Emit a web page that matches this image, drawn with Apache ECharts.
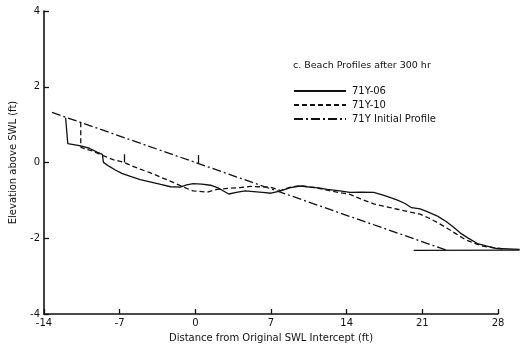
<!DOCTYPE html>
<html>
<head>
<meta charset="utf-8">
<script src="https://cdn.jsdelivr.net/npm/echarts@6/dist/echarts.min.js"></script>
<style>
  html, body { margin: 0; padding: 0; background: #fff; }
  #chart { width: 523px; height: 348px; }
</style>
</head>
<body>
<div id="chart"></div>
<script>
// Beach profiles after 300 hr: distance (ft) vs elevation above SWL (ft)
const xTicks = [-14, -7, 0, 7, 14, 21, 28];
const yTicks = [-4, -2, 0, 2, 4];
// the profile traces run a little past the last labelled tick
const xDrawMax = 30;

const profile06 = [
  [-12.0, 1.20], [-11.8, 0.52], [-10.6, 0.46], [-9.8, 0.40], [-9.1, 0.30],
  [-8.6, 0.24], [-8.5, 0.03], [-8.0, -0.07], [-7.4, -0.17], [-6.8, -0.26],
  [-6.0, -0.34], [-5.1, -0.42], [-4.2, -0.48], [-3.2, -0.55], [-2.3, -0.61],
  [-1.4, -0.62], [-0.8, -0.56], [-0.2, -0.53], [0.6, -0.54], [1.4, -0.57],
  [2.1, -0.64], [2.6, -0.72], [3.1, -0.80], [3.8, -0.76], [4.6, -0.72],
  [5.4, -0.74], [6.2, -0.76], [7.0, -0.78], [7.9, -0.72], [8.8, -0.63],
  [9.7, -0.59], [10.6, -0.62], [11.4, -0.64], [12.2, -0.68], [13.2, -0.71],
  [14.3, -0.76], [15.4, -0.75], [16.5, -0.76], [17.3, -0.82], [18.0, -0.89],
  [18.7, -0.96], [19.4, -1.05], [20.0, -1.16], [20.8, -1.19], [21.5, -1.27],
  [22.4, -1.38], [23.2, -1.52], [23.9, -1.67], [24.6, -1.84], [25.2, -1.95],
  [26.1, -2.10], [26.9, -2.16], [27.9, -2.23], [30.0, -2.25]
];

const profile10 = [
  [-10.6, 1.08], [-10.6, 0.43], [-10.2, 0.38], [-9.5, 0.33], [-8.9, 0.25],
  [-8.3, 0.18], [-7.6, 0.10], [-6.6, 0.03], [-5.9, -0.06], [-5.1, -0.15],
  [-4.2, -0.24], [-3.2, -0.36], [-2.0, -0.50], [-1.1, -0.62], [-0.2, -0.72],
  [1.1, -0.75], [2.0, -0.68], [3.0, -0.65], [4.2, -0.63], [5.1, -0.60],
  [6.9, -0.62], [7.9, -0.71], [8.8, -0.62], [9.7, -0.58], [11.0, -0.63],
  [12.2, -0.70], [13.3, -0.76], [14.3, -0.81], [15.3, -0.93], [16.5, -1.06],
  [17.4, -1.12], [18.7, -1.20], [19.8, -1.27], [20.8, -1.33], [21.6, -1.43],
  [22.4, -1.55], [23.3, -1.70], [24.2, -1.86], [25.0, -2.00], [25.7, -2.08],
  [26.6, -2.17], [27.6, -2.21], [28.5, -2.24]
];

const initialProfile = [[-13.26, 1.34], [23.3, -2.28]];
const tankFloor = [[20.2, -2.28], [30.0, -2.27]];

// short survey marks: [x, yFrom, yTo]
const marks10 = [[-6.6, 0.03, 0.24]];
const marksInitial = [[0.3, 0.01, 0.22]];

const ink = '#111';
const font = 'DejaVu Sans';

// both grids share the same scale (px per ft); the second one is wider
const gridLeft = 44, gridRight = 25, gridTop = 11, gridBottom = 32;
const plotW = 523 - gridLeft - gridRight;
const pxPerFt = plotW / (xTicks[xTicks.length - 1] - xTicks[0]);
const drawRight = 523 - gridLeft - pxPerFt * (xDrawMax - xTicks[0]);

function markSegments(list) {
  return list.map(m => [{ coord: [m[0], m[1]] }, { coord: [m[0], m[2]] }]);
}

const chart = echarts.init(document.getElementById('chart'), null, { renderer: 'canvas' });
chart.setOption({
  animation: false,
  backgroundColor: '#fff',
  textStyle: { fontFamily: font, color: ink },
  title: {
    text: 'c. Beach Profiles after 300 hr',
    left: 288, top: 56,
    textStyle: { fontFamily: font, fontSize: 9.5, fontWeight: 'normal', color: ink }
  },
  legend: {
    orient: 'vertical',
    left: 288, top: 81,
    itemWidth: 52, itemHeight: 10, itemGap: 4,
    selectedMode: false,
    itemStyle: { opacity: 0 },
    textStyle: { fontFamily: font, fontSize: 10, color: ink, padding: [0, 0, 0, 1] },
    data: ['71Y-06', '71Y-10', '71Y Initial Profile']
  },
  grid: [
    { left: gridLeft, right: gridRight, top: gridTop, bottom: gridBottom },
    { left: gridLeft, right: drawRight, top: gridTop, bottom: gridBottom }
  ],
  xAxis: [{
    gridIndex: 0,
    type: 'value', min: xTicks[0], max: xTicks[xTicks.length - 1], interval: 7,
    name: 'Distance from Original SWL Intercept (ft)',
    nameLocation: 'middle', nameGap: 19,
    nameTextStyle: { fontFamily: font, fontSize: 10, color: ink },
    axisLine: { show: true, onZero: false, lineStyle: { color: ink, width: 1.6 } },
    axisTick: { show: true, inside: true, length: 5, lineStyle: { color: ink, width: 1.3 } },
    axisLabel: { margin: 4, fontFamily: font, fontSize: 10, color: ink,
      formatter: v => xTicks.includes(v) ? String(v) : '' },
    splitLine: { show: false }
  }, {
    gridIndex: 1, show: false,
    type: 'value', min: xTicks[0], max: xDrawMax,
    splitLine: { show: false }
  }],
  yAxis: [{
    gridIndex: 0,
    type: 'value', min: yTicks[0], max: yTicks[yTicks.length - 1], interval: 2,
    name: 'Elevation above SWL (ft)',
    nameLocation: 'middle', nameGap: 26, nameRotate: 90,
    nameTextStyle: { fontFamily: font, fontSize: 10, color: ink },
    axisLine: { show: true, onZero: false, lineStyle: { color: ink, width: 1.6 } },
    axisTick: { show: true, inside: true, length: 5, lineStyle: { color: ink, width: 1.3 } },
    axisLabel: { margin: 4, fontFamily: font, fontSize: 10, color: ink,
      formatter: v => yTicks.includes(v) ? String(v) : '' },
    splitLine: { show: false }
  }, {
    gridIndex: 1, show: false,
    type: 'value', min: yTicks[0], max: yTicks[yTicks.length - 1],
    splitLine: { show: false }
  }],
  series: [
    {
      name: '71Y-06', type: 'line', data: profile06, symbol: 'none',
      xAxisIndex: 1, yAxisIndex: 1,
      lineStyle: { color: ink, width: 1.3, type: 'solid' },
      itemStyle: { color: ink }
    },
    {
      name: '71Y-10', type: 'line', data: profile10, symbol: 'none',
      xAxisIndex: 1, yAxisIndex: 1,
      lineStyle: { color: ink, width: 1.3, type: [5, 3] },
      itemStyle: { color: ink },
      markLine: {
        silent: true, symbol: 'none', label: { show: false },
        lineStyle: { color: ink, width: 1.3, type: 'solid' },
        data: markSegments(marks10)
      }
    },
    {
      name: '71Y Initial Profile', type: 'line', data: initialProfile, symbol: 'none',
      xAxisIndex: 1, yAxisIndex: 1,
      lineStyle: { color: ink, width: 1.3, type: [9, 3, 2, 3] },
      itemStyle: { color: ink },
      markLine: {
        silent: true, symbol: 'none', label: { show: false },
        lineStyle: { color: ink, width: 1.3, type: 'solid' },
        data: markSegments(marksInitial)
      }
    },
    {
      name: 'floor', type: 'line', data: tankFloor, symbol: 'none',
      xAxisIndex: 1, yAxisIndex: 1,
      lineStyle: { color: ink, width: 1.3, type: 'solid' },
      itemStyle: { color: ink }
    }
  ]
});
</script>
</body>
</html>
